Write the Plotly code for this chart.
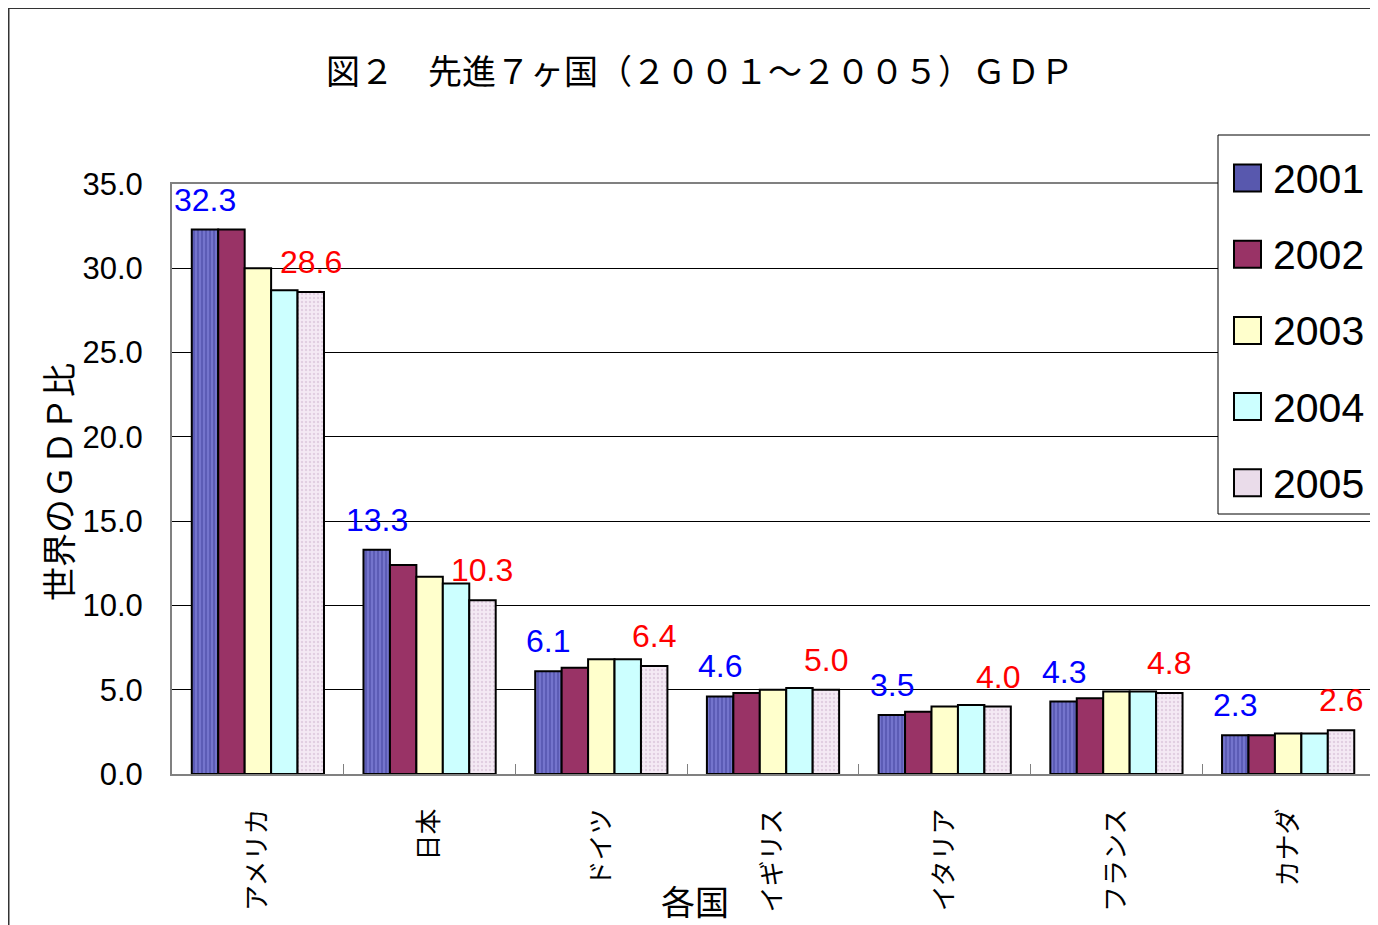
import plotly.graph_objects as go

countries = ["アメリカ", "日本", "ドイツ", "イギリス", "イタリア", "フランス", "カナダ"]
years = ["2001", "2002", "2003", "2004", "2005"]
v2001 = [32.3, 13.3, 6.1, 4.6, 3.5, 4.3, 2.3]
v2002 = [32.3, 12.4, 6.3, 4.8, 3.7, 4.5, 2.3]
v2003 = [30.0, 11.7, 6.8, 5.0, 4.0, 4.9, 2.4]
v2004 = [28.7, 11.3, 6.8, 5.1, 4.1, 4.9, 2.4]
v2005 = [28.6, 10.3, 6.4, 5.0, 4.0, 4.8, 2.6]
series = [v2001, v2002, v2003, v2004, v2005]
y_ticks = [0, 5, 10, 15, 20, 25, 30, 35]

colors = ["#6B6BC6", "#993366", "#FFFFCC", "#CCFFFF", "#F2E6F2"]
legend_fill = ["#5858AE", "#993366", "#FFFFCC", "#CCFFFF", "#EADCEA"]
patterns = [
    dict(shape="|", fgcolor="#2E2E8A", bgcolor="#7474CC", size=4, solidity=0.35),
    None,
    None,
    None,
    dict(shape=".", fgcolor="#CDB4CD", bgcolor="#F4EAF4", size=4, solidity=0.3),
]

# page body has an 8px margin; reference coordinates are page coordinates
OFF = 8
W, H = 1378 - OFF, 925 - OFF
PL, PR, PT, PB = 172, 1374, 184, 774          # plot area in reference pixels
ML, MR, MT = PL - OFF, 1378 - PR, PT - OFF
MB = H - (PB - OFF)
PW = PR - PL
PH = PB - PT
BARGAP = 0.23

def px(x):
    return (x - PL) / PW

def py(y):
    return (PB - y) / PH

SANS = "Liberation Sans, Arial"
CJK = "Noto Sans CJK JP"

fig = go.Figure()
for i, (yr, vals) in enumerate(zip(years, series)):
    marker = dict(color=colors[i], line=dict(color="black", width=2))
    if patterns[i]:
        marker["pattern"] = patterns[i]
    fig.add_trace(go.Bar(name=yr, x=countries, y=vals, marker=marker,
                         showlegend=False, hoverinfo="x+y+name"))

# value labels on first and last series
cat_px = PW / len(countries)
bar_px = cat_px * (1 - BARGAP) / len(years)
annotations = []
for idx, (vals, col) in enumerate([(v2001, "#0000FF"), (v2005, "#FF0000")]):
    k = 0 if idx == 0 else len(years) - 1
    shift = (k - (len(years) - 1) / 2) * bar_px
    for c, v in zip(countries, vals):
        annotations.append(dict(x=c, y=v, xref="x", yref="y", text=f"{v:.1f}",
                                showarrow=False, xshift=shift, yshift=30,
                                yanchor="middle",
                                font=dict(family=SANS, size=32, color=col)))

annotations.append(dict(text="世界のＧＤＰ比", xref="paper", yref="paper",
                        x=px(57), y=py(482),
                        xanchor="center", yanchor="middle", textangle=-90, showarrow=False,
                        font=dict(family=CJK, size=34, color="black")))
annotations.append(dict(text="各国", xref="paper", yref="paper",
                        x=px(695), y=py(900),
                        xanchor="center", yanchor="middle", showarrow=False,
                        font=dict(family=CJK, size=34, color="black")))

# legend (drawn as box + swatches + text)
shapes = [dict(type="rect", xref="paper", yref="paper",
               x0=px(8.5), x1=1.2, y0=-0.5, y1=py(8),
               line=dict(color="#333333", width=2), fillcolor="rgba(0,0,0,0)",
               layer="below"),
          dict(type="rect", xref="paper", yref="paper",
               x0=px(1218), x1=px(1375), y0=py(514), y1=py(135),
               line=dict(color="black", width=1), fillcolor="white", layer="above")]
leg_top, leg_step = 178, 76.2
for i, yr in enumerate(years):
    cy = leg_top + i * leg_step
    shapes.append(dict(type="rect", xref="paper", yref="paper",
                       x0=px(1234), x1=px(1261), y0=py(cy + 13.5), y1=py(cy - 13.5),
                       line=dict(color="black", width=2), fillcolor=legend_fill[i],
                       layer="above"))
    annotations.append(dict(text=yr, xref="paper", yref="paper", x=px(1271), y=py(cy + 1),
                            xanchor="left", yanchor="middle", showarrow=False,
                            font=dict(family=SANS, size=41, color="black")))

fig.update_layout(
    width=W, height=H,
    margin=dict(l=ML, r=MR, t=MT, b=MB, autoexpand=False),
    paper_bgcolor="white", plot_bgcolor="white",
    barmode="group", bargap=BARGAP, bargroupgap=0,
    showlegend=False,
    title=dict(text="図２　先進７ヶ国（２００１～２００５）ＧＤＰ",
               x=(700 - OFF) / W, xanchor="center", y=1 - (72 - OFF) / H, yanchor="middle",
               font=dict(family=CJK, size=34, color="black")),
    xaxis=dict(type="category", showgrid=False, showline=True, linecolor="#808080",
               linewidth=2, mirror=True, ticks="inside", tickson="boundaries",
               ticklen=10, tickcolor="#808080", tickangle=-90,
               ticklabelstandoff=22, automargin=False,
               tickfont=dict(family=CJK, size=26, color="black")),
    yaxis=dict(range=[0, 35], tickvals=y_ticks, tickformat=".1f",
               showgrid=True, gridcolor="black", gridwidth=1,
               showline=True, linecolor="#808080", linewidth=2, mirror=True,
               ticks="", ticklabelstandoff=21, zeroline=False, automargin=False,
               tickfont=dict(family=SANS, size=31, color="black")),
    annotations=annotations,
    shapes=shapes,
)

fig.write_html("out.html")
